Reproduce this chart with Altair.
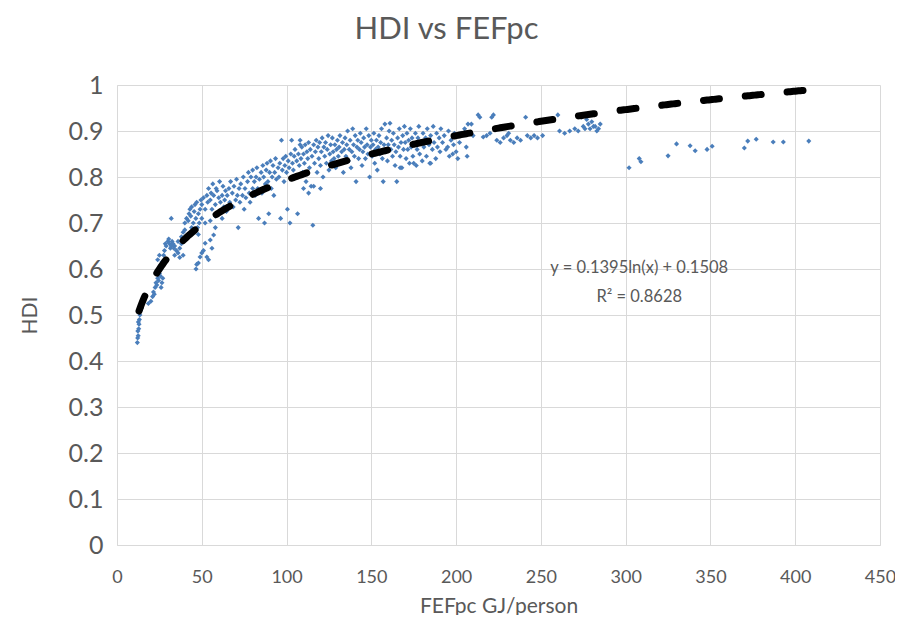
import altair as alt
import pandas as pd

# ---- data (FEFpc GJ/person, HDI) ----
fef = [
 12.0,12.2,12.5,12.3,12.8,13.0,12.6,13.2,13.5,13.1,13.8,14.2,14.5,
 18.5,20.0,21.0,21.5,22.0,22.5,23.0,23.5,24.0,24.5,25.0,25.5,26.0,26.5,27.0,24.0,25.0,26.0,26.5,27.5,28.0,28.5,29.0,29.5,
 30,30.5,31,31.5,32,32.5,33,33.5,34,35,36,37,38,32,34,36,38,39,40,37,39,
 40,41,42,42.5,43,43.5,44,45,45.5,46,46.5,47,47.5,48,48.5,49,49.5,50,44,46,48,
 46.6,48,49,51,52,55,57,58,53,54,47,50,56,
 50,51,52,53,53.5,54,55,55.5,56,56.5,57,58,58.5,59,60,60.5,61,62,62.5,63,63.5,64,64.5,60,62,58,55,52,
 65,66,66.5,67,68,68.5,69,70,70.5,71,71.5,72,72.5,73,74,74.5,75,75.5,76,77,77.5,78,78.5,79,80,80,
 81,81.5,82,82.5,83,83.5,84,85,85.5,86,86.5,87,87.5,88,88.5,89,89.5,90,90.5,91,91.5,92,92.5,93,93.5,94,95,
 95.5,96,96.5,97,97.5,98,98.5,99,99.5,100,100.5,101,101.5,102,102.5,103,103.5,104,104.5,105,105.5,106,106.5,107,107.5,108,108.5,109,109.5,110,108,
 110.5,111,111.5,112,112.5,113,113.5,114,114.5,115,115.5,116,116.5,117,117.5,118,118.5,119,119.5,120,120.5,121,121.5,122,122.5,123,123.5,124,124.5,125,125.5,126,126.5,127,127.5,128,128.5,129,129.5,130,110,113,116,120,
 130.5,131,131.5,132,132.5,133,133.5,134,134.5,135,135.5,136,136.5,137,137.5,138,138.5,139,139.5,140,140.5,141,141.5,142,142.5,143,143.5,144,144.5,145,145.5,146,146.5,147,147.5,148,148.5,149,149.5,150,
 150.5,151,151.5,152,152.5,153,153.5,154,154.5,155,155.5,156,156.5,157,157.5,158,158.5,159,159.5,160,160.5,161,161.5,162,162.5,163,163.5,164,164.5,165,165.5,166,166.5,167,167.5,168,168.5,169,169.5,170,
 170.5,171,171.5,172,172.5,173,173.5,174,174.5,175,176,176.5,177,177.5,178,178.5,179,180,180.5,181,182,182.5,183,184,184.5,185,186,186.5,187,188,188.5,189,190,190.5,191,192,193,194,195,195.5,196,197,198,198.5,199,200,167,175,185,
 201,202,203,205,206,206.5,207,209,210,213,216,218,220,222,221,214,224,226,228,230,231,232,234,236,238,
 241,242,244,246,248,251,260,261,264,267,270,272,274,275,276,277,278,279,280,281,282,283,284,285,
 302,308,309,325,330,338,341,348,351,370,372,377,387,393,408,
]
hdi = [
 0.44,0.45,0.455,0.465,0.47,0.48,0.485,0.49,0.50,0.505,0.51,0.52,0.515,
 0.525,0.53,0.54,0.55,0.545,0.56,0.57,0.565,0.58,0.575,0.59,0.585,0.56,0.57,0.58,0.62,0.63,0.60,0.615,0.63,0.64,0.655,0.65,0.62,
 0.66,0.665,0.655,0.645,0.65,0.66,0.655,0.645,0.65,0.64,0.635,0.645,0.655,0.71,0.63,0.66,0.67,0.68,0.685,0.625,0.63,
 0.70,0.71,0.705,0.72,0.73,0.715,0.735,0.70,0.725,0.74,0.71,0.745,0.69,0.72,0.70,0.73,0.75,0.71,0.69,0.68,0.675,
 0.60,0.613,0.626,0.64,0.656,0.663,0.674,0.69,0.626,0.62,0.61,0.635,0.645,
 0.74,0.755,0.73,0.76,0.745,0.775,0.75,0.765,0.73,0.785,0.76,0.74,0.775,0.77,0.755,0.79,0.745,0.76,0.78,0.735,0.75,0.77,0.725,0.72,0.71,0.715,0.705,0.70,
 0.76,0.775,0.745,0.79,0.765,0.735,0.78,0.75,0.795,0.76,0.69,0.775,0.745,0.785,0.76,0.80,0.73,0.775,0.755,0.79,0.81,0.765,0.745,0.80,0.775,0.815,
 0.79,0.76,0.80,0.82,0.775,0.71,0.795,0.81,0.765,0.825,0.80,0.70,0.785,0.815,0.83,0.79,0.72,0.81,0.835,0.775,0.80,0.825,0.76,0.81,0.84,0.795,0.82,
 0.80,0.83,0.71,0.88,0.815,0.84,0.79,0.825,0.845,0.81,0.73,0.835,0.82,0.70,0.85,0.88,0.83,0.815,0.845,0.86,0.80,0.835,0.72,0.85,0.825,0.88,0.84,0.865,0.81,0.85,0.87,
 0.83,0.87,0.79,0.855,0.84,0.875,0.82,0.86,0.78,0.845,0.695,0.87,0.83,0.855,0.88,0.81,0.865,0.84,0.875,0.825,0.855,0.885,0.80,0.865,0.845,0.875,0.83,0.86,0.89,0.815,0.85,0.87,0.835,0.885,0.855,0.84,0.87,0.82,0.86,0.88,0.775,0.765,0.78,0.775,
 0.845,0.865,0.89,0.83,0.855,0.875,0.81,0.86,0.885,0.845,0.87,0.90,0.835,0.86,0.88,0.82,0.855,0.905,0.87,0.845,0.89,0.79,0.865,0.88,0.84,0.86,0.895,0.875,0.825,0.855,0.885,0.865,0.84,0.905,0.87,0.85,0.89,0.80,0.865,0.88,
 0.845,0.87,0.895,0.83,0.86,0.88,0.815,0.865,0.89,0.85,0.875,0.905,0.84,0.79,0.87,0.915,0.855,0.885,0.835,0.87,0.90,0.917,0.86,0.88,0.845,0.895,0.87,0.825,0.855,0.79,0.885,0.865,0.905,0.845,0.875,0.82,0.89,0.86,0.91,0.875,
 0.84,0.895,0.86,0.88,0.83,0.905,0.865,0.885,0.845,0.87,0.895,0.825,0.86,0.885,0.91,0.85,0.875,0.835,0.895,0.865,0.885,0.845,0.905,0.87,0.83,0.89,0.86,0.91,0.875,0.84,0.895,0.865,0.885,0.855,0.905,0.875,0.89,0.86,0.865,0.90,0.845,0.88,0.85,0.87,0.895,0.855,0.82,0.83,0.83,
 0.84,0.875,0.895,0.905,0.865,0.845,0.915,0.915,0.89,0.935,0.887,0.89,0.895,0.935,0.93,0.93,0.88,0.875,0.885,0.89,0.895,0.88,0.875,0.885,0.88,
 0.93,0.89,0.885,0.89,0.885,0.89,0.935,0.90,0.895,0.90,0.905,0.90,0.93,0.91,0.905,0.925,0.915,0.905,0.92,0.91,0.91,0.90,0.905,0.915,
 0.82,0.84,0.833,0.846,0.872,0.868,0.857,0.86,0.867,0.863,0.878,0.882,0.876,0.876,0.878,
]

# trendline as printed on the chart
TREND_A = 0.1395
TREND_B = 0.1508
TREND_X_START = 13
TREND_X_END = 409
trend_text = ["y = 0.1395ln(x) + 0.1508", "R² = 0.8628"]
trend_text_x = [308, 308]
trend_text_y = [0.602, 0.539]

x_ticks = [0, 50, 100, 150, 200, 250, 300, 350, 400, 450]
y_ticks = [0, 0.1, 0.2, 0.3, 0.4, 0.5, 0.6, 0.7, 0.8, 0.9, 1.0]

FONT = "Lato"
TXT = "#595959"
GRID = "#d9d9d9"

pts = pd.DataFrame({"FEFpc": fef[:len(hdi)], "HDI": hdi[:len(fef)]})
ann = pd.DataFrame({"t": trend_text, "x": trend_text_x, "y": trend_text_y})

xscale = alt.Scale(domain=[0, 450], nice=False, zero=True)
yscale = alt.Scale(domain=[0, 1], nice=False)

xaxis = alt.Axis(values=x_ticks, title="FEFpc GJ/person", grid=True, gridColor=GRID,
                 domainColor=GRID, ticks=False, labelFont=FONT, labelFontSize=18,
                 labelColor=TXT, labelPadding=23, titleFont=FONT, titleFontSize=21,
                 titleColor=TXT, titleFontWeight="normal", titlePadding=9,
                 labelFlush=False)
yaxis = alt.Axis(values=y_ticks, title="HDI", grid=True, gridColor=GRID,
                 domainColor=GRID, ticks=False, labelFont=FONT, labelFontSize=25,
                 labelColor=TXT, labelPadding=14, titleFont=FONT, titleFontSize=21,
                 titleColor=TXT, titleFontWeight="normal", titlePadding=28,
                 labelFlush=False, format="~g")

points = alt.Chart(pts).mark_point(filled=True, shape="diamond", size=26,
                                   color="#4a7ebb", opacity=1).encode(
    x=alt.X("FEFpc:Q", scale=xscale, axis=xaxis),
    y=alt.Y("HDI:Q", scale=yscale, axis=yaxis),
)

trend = alt.Chart(alt.sequence(TREND_X_START, TREND_X_END, 1, as_="tx")).transform_calculate(
    ty=f"{TREND_A}*log(datum.tx)+{TREND_B}"
).mark_line(color="black", strokeWidth=7, strokeCap="round",
            strokeDash=[16, 26]).encode(
    x=alt.X("tx:Q", scale=xscale),
    y=alt.Y("ty:Q", scale=yscale),
)

label = alt.Chart(ann).mark_text(font=FONT, fontSize=16.5, color=TXT, align="center",
                                 baseline="middle").encode(
    x=alt.X("x:Q", scale=xscale),
    y=alt.Y("y:Q", scale=yscale),
    text="t:N",
)

chart = alt.layer(points, trend, label).properties(
    width=763, height=460,
    title=alt.TitleParams("HDI vs FEFpc", font=FONT, fontSize=31, color=TXT,
                          fontWeight="normal", anchor="middle", dx=-52, offset=27),
    autosize=alt.AutoSizeParams(type="none"),
    padding={"left": 109, "top": 77, "right": 15, "bottom": 70},
).configure_view(stroke=None)

chart.save("out.html", embed_options={"renderer": "svg", "actions": False})
